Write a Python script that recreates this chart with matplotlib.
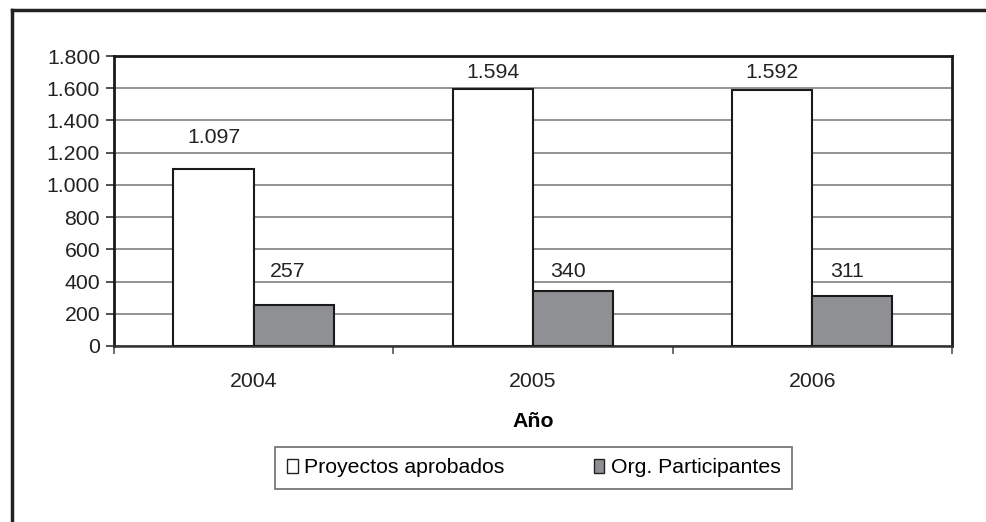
import matplotlib.pyplot as plt
import numpy as np
from matplotlib.lines import Line2D

years = ["2004", "2005", "2006"]
proyectos = [1097, 1594, 1592]
organizaciones = [257, 340, 311]
series_names = ["Proyectos aprobados", "Org. Participantes"]


def fmt(v):
    # thousands separator with a dot, as in the original
    return f"{v:,}".replace(",", ".")


plt.rcParams["font.family"] = ["Liberation Sans", "DejaVu Sans"]
FS = 15.3

fig = plt.figure(figsize=(9.86, 5.22), dpi=100)
ax = fig.add_axes([0.1156, 0.3372, 0.8499, 0.5555])

x = np.arange(len(years))
w = 0.287
b1 = ax.bar(x - w / 2, proyectos, w, color="white", edgecolor="#1a1a1a",
            linewidth=1.5, zorder=3)
b2 = ax.bar(x + w / 2, organizaciones, w, color="#8f9094", edgecolor="#1a1a1a",
            linewidth=1.5, zorder=3)

# value labels: kept inside the plot area like the original
for r, v in zip(b1, proyectos):
    ax.text(r.get_x() + r.get_width() / 2, min(v + 200, 1695), fmt(v),
            ha="center", va="center", fontsize=FS, color="#222")
gray_row = max(organizaciones) + 120
for r, v in zip(b2, organizaciones):
    ax.text(r.get_x() + r.get_width() / 2 - 0.02, gray_row, fmt(v),
            ha="center", va="center", fontsize=FS, color="#222")

ax.set_xlim(-0.5, len(years) - 0.5)
ax.set_ylim(0, 1800)
ax.set_yticks(np.arange(0, 1801, 200))
ax.set_yticklabels([fmt(v) for v in range(0, 1801, 200)], fontsize=FS)
ax.yaxis.grid(True, color="#808080", linewidth=1.2, zorder=0)
ax.set_axisbelow(True)

ax.set_xticks(x)
ax.set_xticklabels(years, fontsize=FS)
ax.set_xticks(np.arange(-0.5, len(years), 1), minor=True)
ax.tick_params(axis="x", which="major", length=0, pad=19, labelcolor="#222")
ax.tick_params(axis="x", which="minor", length=6, color="#555", width=1.2)
ax.tick_params(axis="y", length=6, width=1.2, color="#333", pad=4,
               labelcolor="#222")

for s in ["left", "top", "right"]:
    ax.spines[s].set_linewidth(2)
    ax.spines[s].set_color("#1a1a1a")
ax.spines["bottom"].set_linewidth(1.8)
ax.spines["bottom"].set_color("#333")

ax.set_xlabel("Año", fontweight="bold", fontsize=FS, labelpad=15)

handles = [
    plt.Rectangle((0, 0), 1, 1, facecolor="white", edgecolor="#222", linewidth=1),
    plt.Rectangle((0, 0), 1, 1, facecolor="#8f9094", edgecolor="#222", linewidth=1),
]
leg = fig.legend(handles, series_names, loc="center",
                 bbox_to_anchor=(0.5415, 0.1035), ncol=2, frameon=True,
                 fancybox=False, handlelength=0.5, handleheight=0.6,
                 handletextpad=0.3, columnspacing=4.2, borderpad=0.55,
                 borderaxespad=0, fontsize=FS)
leg.get_frame().set_edgecolor("#555")
leg.get_frame().set_linewidth(1.3)

# outer frame (top and left edges only, as cropped in the original)
fig.add_artist(Line2D([0.012, 1.0], [0.981, 0.981], transform=fig.transFigure,
                      color="#222", linewidth=2.5))
fig.add_artist(Line2D([0.012, 0.012], [0.0, 0.981], transform=fig.transFigure,
                      color="#222", linewidth=2.5))

fig.savefig("out.png", dpi=100)
